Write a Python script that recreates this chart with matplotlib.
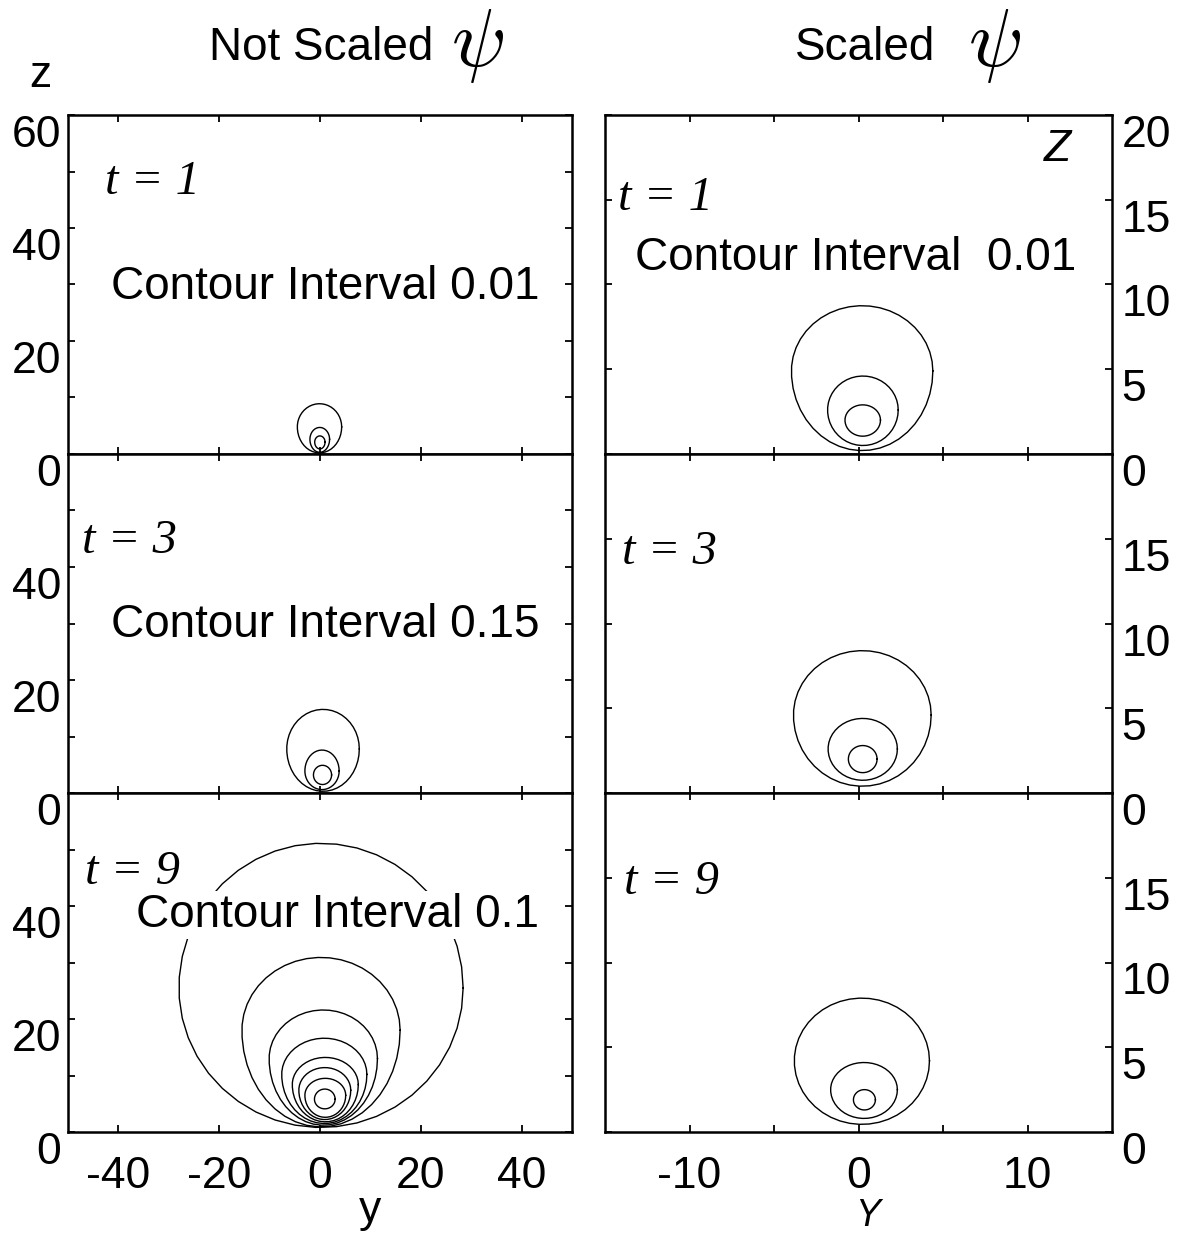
import numpy as np
import matplotlib
matplotlib.use('Agg')
import matplotlib.pyplot as plt

plt.rcParams['font.family'] = ['Liberation Sans', 'DejaVu Sans']
plt.rcParams['mathtext.fontset'] = 'cm'
plt.rcParams['axes.unicode_minus'] = False

# contours: (left, right, bottom, top, z of widest point)
unscaled_t1 = [(-4.5, 4.3, 0.2, 8.9, 4.8), (-2.0, 1.9, 0.3, 4.7, 2.6), (-1.05, 1.0, 0.9, 3.2, 2.1)]
unscaled_t3 = [(-6.6, 7.8, 0.3, 14.8, 7.8), (-3.0, 3.8, 0.6, 7.6, 3.9), (-1.3, 2.3, 1.5, 4.9, 3.2)]
unscaled_t9 = [(-28.0, 28.4, 0.8, 51.1, 25.5), (-15.5, 15.9, 0.9, 30.9, 18.0),
               (-10.1, 11.4, 1.2, 21.6, 13.0), (-7.6, 9.3, 1.5, 16.6, 10.2),
               (-5.5, 7.6, 1.8, 13.2, 8.4), (-4.2, 6.1, 2.2, 11.4, 7.4),
               (-3.0, 5.1, 2.6, 9.5, 6.5), (-1.1, 3.0, 4.1, 7.6, 5.8)]
scaled_t1 = [(-3.97, 4.4, 0.2, 8.75, 4.9), (-1.83, 2.35, 0.5, 4.6, 2.6), (-0.8, 1.3, 1.05, 2.9, 2.0)]
scaled_t3 = [(-3.85, 4.3, 0.4, 8.4, 4.6), (-1.8, 2.3, 0.75, 4.4, 2.6), (-0.6, 1.1, 1.2, 2.8, 2.0)]
scaled_t9 = [(-3.8, 4.2, 0.45, 7.9, 4.2), (-1.65, 2.3, 0.8, 4.1, 2.5), (-0.3, 1.0, 1.3, 2.5, 1.9)]

times = ['1', '3', '9']
unscaled_notes = ['Contour Interval 0.01', 'Contour Interval 0.15', 'Contour Interval 0.1']
scaled_notes = ['Contour Interval  0.01', '', '']


def egg(left, right, bottom, top, widest, n=44):
    t = np.linspace(0, 2 * np.pi, n)
    s = np.sin(t)
    z = np.where(s >= 0, widest + (top - widest) * s, widest + (widest - bottom) * s)
    return (left + right) / 2 + (right - left) / 2 * np.cos(t), z


W, H = 1182, 1233
fig = plt.figure(figsize=(W / 100, H / 100), dpi=100)

row_tops = [115, 454, 793]
row_h = 339
cols = [(68, 504), (605, 507)]

unscaled = [unscaled_t1, unscaled_t3, unscaled_t9]
scaled = [scaled_t1, scaled_t3, scaled_t9]

# text placement (axes fraction)
t_pos_left = [(0.073, 0.802), (0.027, 0.743), (0.033, 0.767)]
t_pos_right = [(0.026, 0.755), (0.033, 0.711), (0.037, 0.737)]
note_pos_left = [(0.086, 0.457), (0.085, 0.46), (0.135, 0.605)]

for i in range(3):
    for j in range(2):
        x0, w = cols[j]
        ax = fig.add_axes([x0 / W, 1 - (row_tops[i] + row_h) / H, w / W, row_h / H])
        for sp in ax.spines.values():
            sp.set_linewidth(1.8)
        ax.tick_params(direction='in', top=True, right=True, length=5, width=1.3,
                       labelsize=32, pad=5)
        if j == 0:
            data = unscaled[i]
            ax.set_xlim(-50, 50)
            ax.set_ylim(0, 60)
            ax.set_xticks([-40, -20, 0, 20, 40])
            ylabs = ['0', '', '20', '', '40', '', '60' if i == 0 else '']
            ax.set_yticks(range(0, 61, 10), ylabs)
        else:
            data = scaled[i]
            ax.set_xlim(-15, 15)
            ax.set_ylim(0, 20)
            ax.set_xticks([-10, -5, 0, 5, 10], ['-10', '', '0', '', '10'])
            ylabs = ['0', '5', '10', '15', '20' if i == 0 else '']
            ax.set_yticks(range(0, 21, 5), ylabs)
            ax.tick_params(labelleft=False, labelright=True, pad=7)
        for lab in ax.get_yticklabels():
            lab.set_verticalalignment('top')
        if i < 2:
            ax.tick_params(labelbottom=False)
        else:
            ax.tick_params(axis='x', pad=17)

        for c in data:
            yy, zz = egg(*c)
            ax.plot(yy, zz, color='black', lw=1.0, zorder=2)

        tp = t_pos_left[i] if j == 0 else t_pos_right[i]
        ax.text(tp[0], tp[1], 't = ' + times[i], transform=ax.transAxes,
                family='Liberation Serif', style='italic', fontsize=35,
                ha='left', va='center')
        if j == 0:
            ax.text(note_pos_left[i][0], note_pos_left[i][1], unscaled_notes[i],
                    transform=ax.transAxes, fontsize=33, ha='left', va='baseline',
                    zorder=3, bbox=dict(boxstyle='square,pad=0.05', fc='white', ec='none'))
        elif scaled_notes[i]:
            ax.text(0.06, 0.543, scaled_notes[i], transform=ax.transAxes,
                    fontsize=33, ha='left', va='baseline')
        if i == 0 and j == 1:
            ax.text(0.865, 0.897, 'Z', transform=ax.transAxes, fontsize=32,
                    style='italic', ha='left', va='center')

# titles and axis names
fig.text(209 / W, 1 - 60 / H, 'Not Scaled', fontsize=33, ha='left', va='baseline')
fig.text(478 / W, 1 - 46 / H, r'$\psi$', fontsize=58, ha='center', va='center')
fig.text(795 / W, 1 - 60 / H, 'Scaled', fontsize=33, ha='left', va='baseline')
fig.text(995 / W, 1 - 46 / H, r'$\psi$', fontsize=58, ha='center', va='center')
fig.text(29 / W, 1 - 87 / H, 'z', fontsize=32, ha='left', va='baseline')
fig.text(370 / W, 1 - 1222 / H, 'y', fontsize=32, ha='center', va='baseline')
fig.text(868 / W, 1 - 1226 / H, 'Y', fontsize=27, style='italic', ha='center', va='baseline')

fig.savefig('out.png', dpi=100)
